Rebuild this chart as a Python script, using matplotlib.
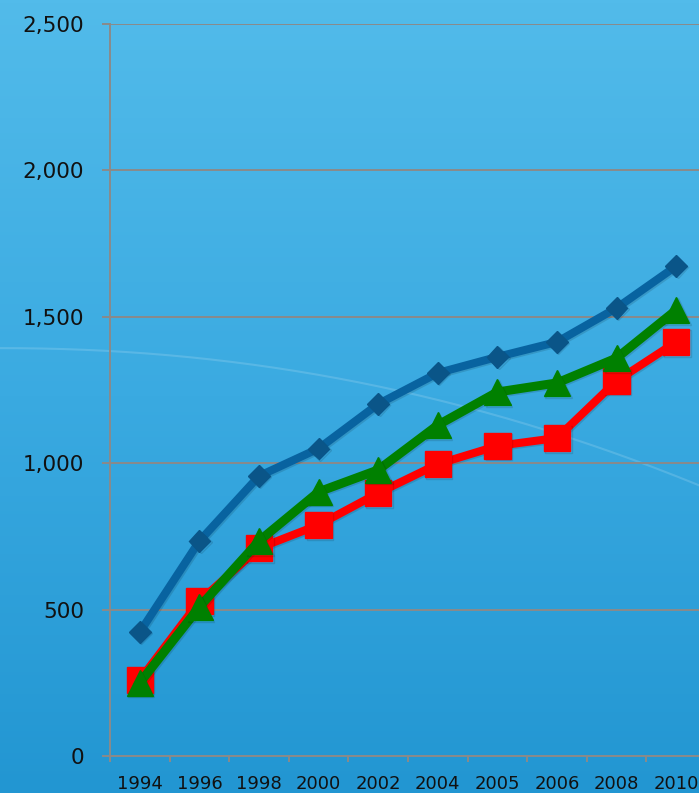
import numpy as np
import matplotlib.pyplot as plt
import matplotlib.patheffects as pe
from matplotlib.colors import LinearSegmentedColormap

years = ["1994", "1996", "1998", "2000", "2002", "2004", "2005", "2006", "2008", "2010"]
blue_vals = [423, 734, 956, 1050, 1202, 1308, 1363, 1414, 1530, 1673]
red_vals = [260, 529, 710, 789, 898, 997, 1059, 1086, 1281, 1414]
green_vals = [250, 509, 734, 902, 977, 1130, 1243, 1274, 1359, 1523]
yticks = [0, 500, 1000, 1500, 2000, 2500]

fig = plt.figure(figsize=(6.99, 7.93), dpi=100)

# background gradient
bg = fig.add_axes([0, 0, 1, 1], zorder=0)
cmap = LinearSegmentedColormap.from_list("bg", ["#52bbea", "#3aaae1", "#2296d2"])
grad = np.linspace(0, 1, 256).reshape(-1, 1)
bg.imshow(grad, aspect="auto", cmap=cmap, extent=[0, 1, 0, 1], origin="upper")
t = np.linspace(0, 1, 200)
bg.plot(t, 0.561 - 0.173 * t ** 2.08, color="white", alpha=0.15, lw=1.5)
bg.set_xlim(0, 1)
bg.set_ylim(0, 1)
bg.axis("off")

ax = fig.add_axes([0.1574, 0.0467, 0.8526, 0.9231], zorder=1)
ax.patch.set_alpha(0)
x = np.arange(len(years))

shadow = [pe.SimpleLineShadow(offset=(1, -1), shadow_color="k", alpha=0.12), pe.Normal()]
ax.plot(x, blue_vals, color="#0863a0", lw=5.8, marker="D", ms=11,
        mfc="#0a5588", mec="#0a5588", path_effects=shadow, zorder=3)
ax.plot(x, red_vals, color="#ff0000", lw=5.8, marker="s", ms=19,
        mfc="#ff0000", mec="#ff0000", path_effects=shadow, zorder=4)
ax.plot(x, green_vals, color="#008000", lw=6.5, marker="^", ms=19,
        mfc="#008000", mec="#008000", path_effects=shadow, zorder=5)

ax.set_xlim(-0.5, len(years) - 0.5)
ax.set_ylim(0, 2500)
ax.set_yticks(yticks)
ax.set_yticklabels([f"{v:,}" for v in yticks], fontsize=15.5, color="#111111")
ax.set_xticks(x)
ax.set_xticklabels(years, fontsize=13, color="#111111")
ax.set_xticks(np.arange(-0.5, len(years)), minor=True)
ax.tick_params(axis="x", which="major", length=0, pad=13.5)
ax.tick_params(axis="x", which="minor", length=4.3, width=1.4, color="#8a8a8a")
ax.tick_params(axis="y", length=5.8, width=1.4, color="#8a8a8a", pad=13)
ax.grid(axis="y", color="#8a8a8a", lw=1.4, zorder=1)
ax.set_axisbelow(True)
for s in ["top", "right"]:
    ax.spines[s].set_visible(False)
for s in ["left", "bottom"]:
    ax.spines[s].set_color("#8a8a8a")
    ax.spines[s].set_linewidth(1.4)

fig.savefig("out.png", dpi=100)
